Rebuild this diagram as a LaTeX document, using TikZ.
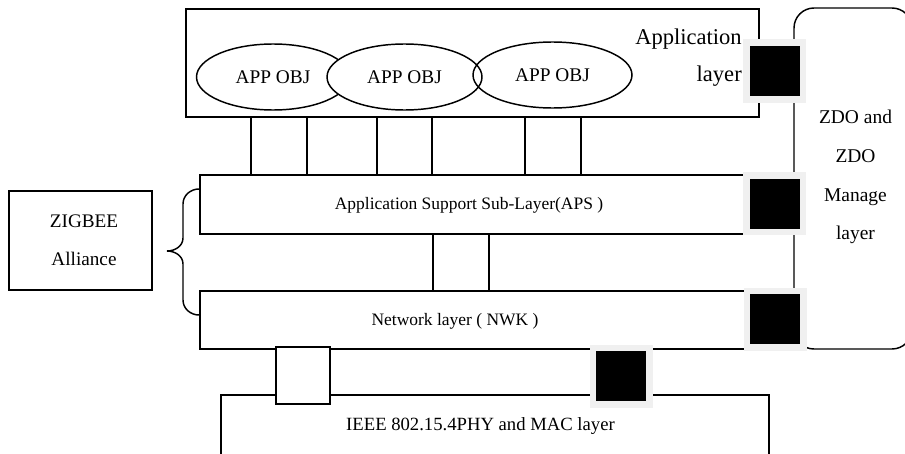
\documentclass[tikz,border=0pt]{standalone}
\usepackage{fontspec}
\setmainfont{Liberation Serif}
\usetikzlibrary{shapes.geometric}
\definecolor{sqborder}{RGB}{240,240,240}
\def\pxu{0.75pt}
\tikzset{
  ln/.style={draw=black, line width=1.1pt},
  layerbox/.style={ln, rectangle, inner sep=0pt, fill=white},
  objell/.style={ln, ellipse, inner sep=0pt, minimum height=66*\pxu,
     font=\fontsize{14.5pt}{17pt}\selectfont},
  blacksq/.style={rectangle, fill=black, draw=sqborder, line width=6.5*\pxu,
     minimum size=56.5*\pxu, inner sep=0pt},
  bigtxt/.style={inner sep=0pt, font=\fontsize{14.6pt}{29.1pt}\selectfont, align=center},
  midtxt/.style={inner sep=0pt, font=\fontsize{13.1pt}{16pt}\selectfont},
}
\begin{document}
\begin{tikzpicture}[x=0.75pt, y=-0.75pt]
\clip (0,0) rectangle (905,453);
\fill[white] (0,0) rectangle (905,453);

% application layer box
\node[layerbox, minimum width=573*\pxu, minimum height=108*\pxu] (app) at (472.5,63) {};
\node[objell, minimum width=153*\pxu] (obj1) at (273,77) {APP OBJ};
\node[objell, fill=white, minimum width=155*\pxu] (obj2) at (404.5,77) {APP OBJ};
\node[objell, minimum width=159*\pxu] (obj3) at (552.5,75) {APP OBJ};

% connector boxes APP - APS
\node[layerbox, minimum width=56*\pxu, minimum height=58*\pxu] (ca) at (279,146) {};
\node[layerbox, minimum width=55*\pxu, minimum height=58*\pxu] (cb) at (404.5,146) {};
\node[layerbox, minimum width=56*\pxu, minimum height=58*\pxu] (cc) at (553,146) {};
% connector box APS - NWK
\node[layerbox, minimum width=56*\pxu, minimum height=57*\pxu] (cd) at (461,262.5) {};

% APS and NWK
\node[layerbox, minimum width=565*\pxu, minimum height=59*\pxu] (aps) at (482.5,204.5) {};
\node[layerbox, minimum width=565*\pxu, minimum height=58*\pxu] (nwk) at (482.5,320) {};
\node[midtxt] (apst) at (469,205) {Application Support Sub-Layer(APS )};
\node[midtxt] (nwkt) at (455,321) {Network layer ( NWK )};

% IEEE box (extends below the picture)
\node[layerbox, minimum width=548*\pxu, minimum height=90*\pxu] (ieee) at (495,440) {};
\node[inner sep=0pt, font=\fontsize{14pt}{17pt}\selectfont] (ieeet) at (480.5,426) {IEEE 802.15.4PHY and MAC layer};

% connector box NWK - IEEE
\node[layerbox, minimum width=54*\pxu, minimum height=57*\pxu] (ce) at (303,375.5) {};

% ZDO box
\node[ln, rectangle, rounded corners=15pt, inner sep=0pt, minimum width=118*\pxu, minimum height=341*\pxu] (zdo) at (853,178.5) {};
\node[bigtxt] (zdot) at (855.5,177) {ZDO and\\ZDO\\Manage\\layer};

% application layer label
\node[inner sep=0pt, align=right, anchor=east, font=\fontsize{16.9pt}{27.75pt}\selectfont] (appt) at (742,58) {Application\\layer};

% black squares
\node[blacksq] (s1) at (774.5,71) {};
\node[blacksq] (s2) at (774.5,203.5) {};
\node[blacksq] (s3) at (775,319) {};
\node[blacksq] (s4) at (621,376) {};

% ZIGBEE Alliance
\node[layerbox, minimum width=143*\pxu, minimum height=99*\pxu] (zig) at (80.5,240.5) {};
\node[bigtxt, font=\fontsize{14.4pt}{28.5pt}\selectfont] (zigt) at (84,240) {ZIGBEE\\Alliance};

% brace
\coordinate (b1) at (199,189);
\coordinate (b2) at (183,204);
\coordinate (b3) at (183,238);
\coordinate (b4) at (167,251);
\coordinate (b5) at (183,264);
\coordinate (b6) at (183,300);
\coordinate (b7) at (199,315);
\draw[ln] (b1) to[out=180,in=90] (b2) -- (b3) to[out=-90,in=0] (b4)
   to[out=0,in=90] (b5) -- (b6) to[out=-90,in=180] (b7);
\end{tikzpicture}
\end{document}
